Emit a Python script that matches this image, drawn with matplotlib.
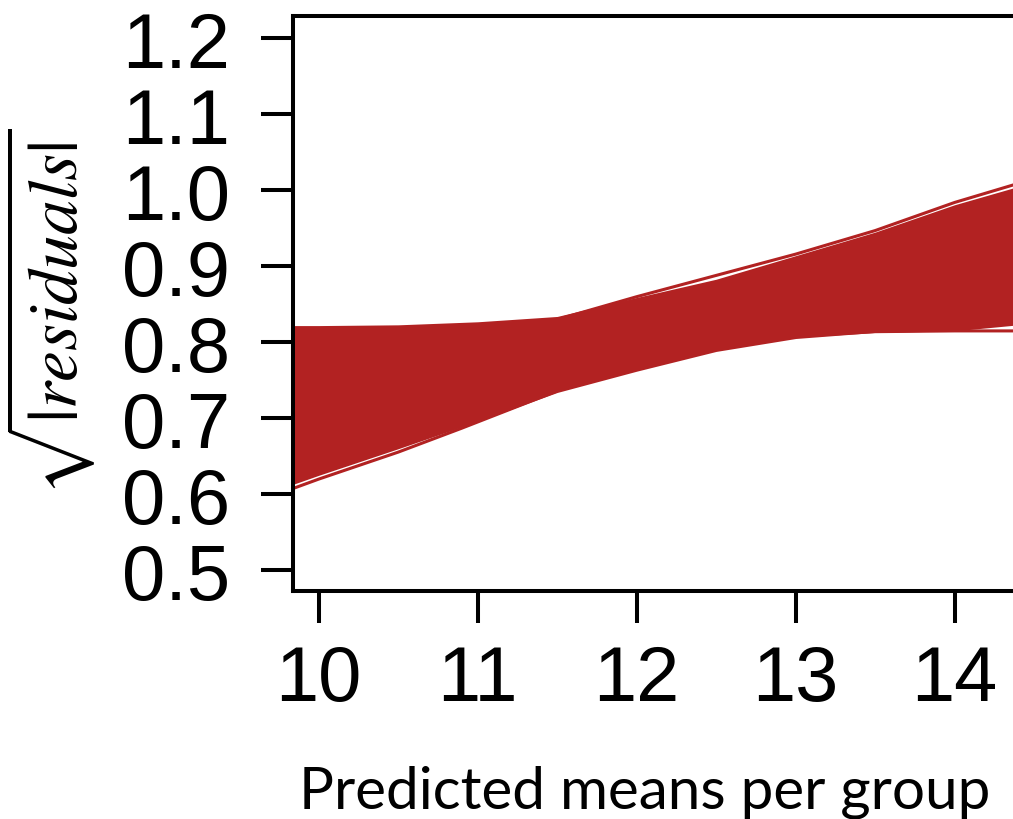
import numpy as np
import matplotlib.pyplot as plt

# knots along the predicted means axis
x_knots = [9.83, 10.0, 10.5, 11.0, 11.5, 12.0, 12.5, 13.0, 13.5, 14.0, 14.40]

# envelope of the bulk of the fitted lines
band_top = [0.822, 0.822, 0.823, 0.827, 0.834, 0.859, 0.883, 0.914, 0.945, 0.981, 1.005]
band_bottom = [0.6125, 0.625, 0.660, 0.696, 0.734, 0.762, 0.788, 0.805, 0.813, 0.815, 0.823]

# single lines sitting a little off the bulk
low_x = [9.83, 10.0, 10.5, 10.9, 11.5]
low_y = [0.607, 0.620, 0.6555, 0.687, 0.736]
top_x = [11.5, 12.0, 12.5, 13.0, 13.5, 14.0, 14.40]
top_y = [0.830, 0.860, 0.888, 0.916, 0.947, 0.984, 1.009]
bot_x = [13.0, 13.5, 14.0, 14.25, 14.40]
bot_y = [0.808, 0.814, 0.815, 0.815, 0.815]

yticks = [0.5, 0.6, 0.7, 0.8, 0.9, 1.0, 1.1, 1.2]
xticks = [10, 11, 12, 13, 14]

red = "#B22222"

fig = plt.figure(figsize=(10.13, 8.2), dpi=100)
ax = fig.add_axes([0.28894, 0.27841, 0.71106, 0.70049])

ax.fill_between(x_knots, band_bottom, band_top, color=red, linewidth=0)
ax.plot(low_x, low_y, color=red, lw=2.2, solid_capstyle="butt")
ax.plot(top_x, top_y, color=red, lw=2.2, solid_capstyle="butt")
ax.plot(bot_x, bot_y, color=red, lw=2.2, solid_capstyle="butt")

ax.set_xlim(9.8365, 14.367)
ax.set_ylim(0.4732, 1.2289)

ax.set_xticks(xticks)
ax.set_xticklabels([str(v) for v in xticks])
ax.set_yticks(yticks)
ax.set_yticklabels(["%.1f" % v for v in yticks])

for side in ["left", "top", "bottom"]:
    ax.spines[side].set_linewidth(2.9)
ax.spines["right"].set_visible(False)

ax.tick_params(axis="both", length=23, width=2.9, direction="out")
ax.tick_params(axis="y", pad=22)
ax.tick_params(axis="x", pad=15)
for lab in ax.get_yticklabels() + ax.get_xticklabels():
    lab.set_fontfamily("Liberation Sans")
    lab.set_fontsize(56)

plt.rcParams["mathtext.fontset"] = "stix"
fig.text(50 / 1013, 1 - 312 / 820, r"$\sqrt{\left|residuals\right|}$", rotation=90,
         ha="center", va="center", fontsize=50)
fig.text(645 / 1013, 1 - 809 / 820, "Predicted means per group", family="Lato",
         fontsize=42, ha="center", va="baseline")

fig.savefig("out.png", dpi=100)
